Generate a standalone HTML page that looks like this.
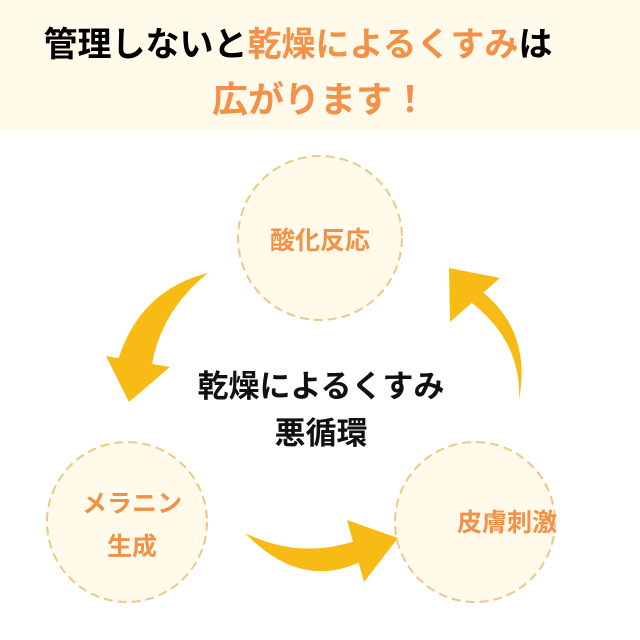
<!DOCTYPE html>
<html><head><meta charset="utf-8"><style>
body{margin:0;width:640px;height:640px;background:#fff;overflow:hidden;font-family:"Liberation Sans","Noto Sans CJK JP",sans-serif;}
.hd{position:absolute;left:0;top:0;width:640px;height:130px;background:#fffaea;}
.t{position:absolute;left:0;width:640px;text-align:center;font-weight:bold;white-space:nowrap;}
.o{color:#f39148}
</style></head><body>
<div class="hd"></div>
<div class="t" style="top:22px;font-size:34px;line-height:46px;left:-22px;">管理しないと<span class="o">乾燥によるくすみ</span>は</div>
<div class="t o" style="top:76px;font-size:36px;line-height:48px;">広がります！</div>
<svg width="640" height="640" style="position:absolute;left:0;top:0">
<g fill="#fffaea" stroke="#ecc98a" stroke-width="2" stroke-dasharray="9,5">
<circle cx="320" cy="238" r="82"/>
<circle cx="127" cy="522" r="80"/>
<circle cx="475" cy="522" r="80"/>
</g>
<g fill="#f8bb16">
<path d="M208,273 Q140,290 118,360 L152,364 Q162,310 208,273Z"/>
<polygon points="106,356 170,367 129,402"/>
<path d="M245,533 Q300,590 360,562 L358,540 Q300,560 245,533Z"/>
<polygon points="347,520 398,538 364,582"/>
<path d="M519,400 Q522,340 468,300 L480,290 Q532,330 519,400Z"/>
<polygon points="449,268 500,278 450,322"/>
</g>
<g font-weight="bold" text-anchor="middle" font-family="Liberation Sans, Noto Sans CJK JP, sans-serif">
<text x="320" y="249" font-size="25" fill="#f39148">酸化反応</text>
<text x="132" y="512" font-size="25" fill="#f39148">メラニン</text>
<text x="132" y="555" font-size="25" fill="#f39148">生成</text>
<text x="507" y="531" font-size="25" fill="#f39148">皮膚刺激</text>
<text x="321" y="397" font-size="31" fill="#111">乾燥によるくすみ</text>
<text x="321" y="444" font-size="31" fill="#111">悪循環</text>
</g>
</svg>
</body></html>
